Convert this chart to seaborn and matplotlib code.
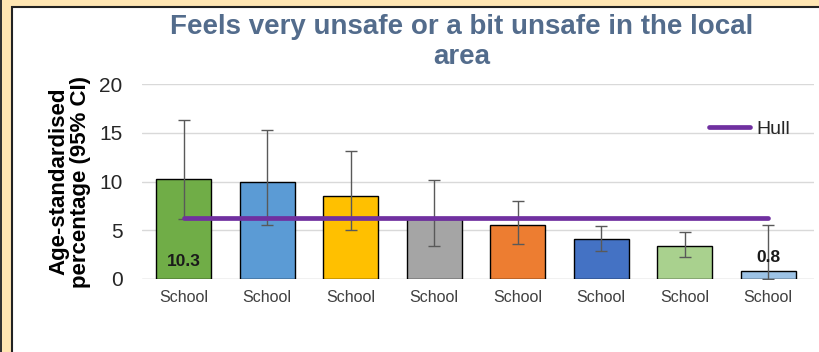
import matplotlib
matplotlib.use("Agg")
import matplotlib.pyplot as plt
from matplotlib.patches import Rectangle
import seaborn as sns

# Chart data
schools = ["School"] * 8
values = [10.3, 9.9, 8.5, 6.2, 5.5, 4.1, 3.35, 0.8]
ci_low = [6.2, 5.5, 5.0, 3.4, 3.55, 2.85, 2.25, 0.0]
ci_high = [16.3, 15.25, 13.1, 10.2, 8.0, 5.4, 4.85, 5.5]
bar_colors = ["#70AD47", "#5B9BD5", "#FFC000", "#A5A5A5",
              "#ED7D31", "#4472C4", "#A9D18E", "#9DC3E6"]
hull_value = 6.3
hull_line = [hull_value] * len(schools)
positions = list(range(len(schools)))

sns.set_style("white")
plt.rcParams["font.family"] = ["Liberation Sans", "DejaVu Sans"]

fig = plt.figure(figsize=(8.19, 3.52), dpi=100)
fig.patch.set_facecolor("#FFE6B3")
# white panel with dark frame lines
fig.patches.append(Rectangle((12 / 819, -0.1), 1, 1.1 - 7 / 352, transform=fig.transFigure,
                             facecolor="white", edgecolor="#222222", linewidth=1.5, zorder=-2))
fig.patches.append(Rectangle((0, 0), 1.5 / 819, 1, transform=fig.transFigure,
                             facecolor="#333333", edgecolor="none", zorder=-2))

ax = fig.add_axes([142 / 819, 1 - 279 / 352, 672 / 819, 195 / 352])
ax.set_facecolor("white")

sns.barplot(x=positions, y=values, hue=positions, palette=bar_colors, legend=False,
            width=0.66, edgecolor="black", linewidth=1, saturation=1, ax=ax, zorder=2)

yerr = [[v - lo for v, lo in zip(values, ci_low)], [hi - v for v, hi in zip(values, ci_high)]]
ax.errorbar(positions, values, yerr=yerr, fmt="none", ecolor="#595959",
            elinewidth=1, capsize=4, capthick=1, zorder=3)

sns.lineplot(x=positions, y=hull_line, color="#7030A0", linewidth=3.4, ax=ax,
             label="Hull", zorder=4)

ax.text(positions[0], 1.75, f"{values[0]:.1f}", ha="center", va="center",
        fontsize=12.5, fontweight="bold", color="#1a1a1a", zorder=5)
ax.text(positions[-1], values[-1] + 1.45, f"{values[-1]:.1f}", ha="center", va="center",
        fontsize=12.5, fontweight="bold", color="#1a1a1a", zorder=5)

ax.set_ylim(0, 20)
ax.set_xlim(-0.5, 7.55)
ax.set_yticks([0, 5, 10, 15, 20])
ax.yaxis.grid(True, color="#D9D9D9", linewidth=1)
ax.set_axisbelow(True)
for s in ax.spines.values():
    s.set_visible(False)
ax.axhline(0, color="#D9D9D9", linewidth=1, zorder=1)

ax.set_xticks(positions)
ax.set_xticklabels(schools, fontsize=11.5, color="#404040")
ax.tick_params(axis="x", length=0, pad=8)
ax.tick_params(axis="y", length=0, pad=14, labelsize=15, labelcolor="#262626")

ax.set_xlabel("")
ax.set_ylabel("Age-standardised\npercentage (95% CI)", fontsize=16,
              fontweight="bold", color="black", labelpad=6, linespacing=1.0)

leg = ax.legend(loc="upper right", frameon=False, handlelength=2.1,
                handletextpad=0.3, bbox_to_anchor=(0.99, 0.905), prop={"size": 14})

fig.text(462 / 819, 1 - 42 / 352, "Feels very unsafe or a bit unsafe in the local\narea",
         ha="center", va="center", fontsize=20, fontweight="bold", color="#536C8C",
         linespacing=1.25)

fig.savefig("out.png", dpi=100, facecolor=fig.get_facecolor())
